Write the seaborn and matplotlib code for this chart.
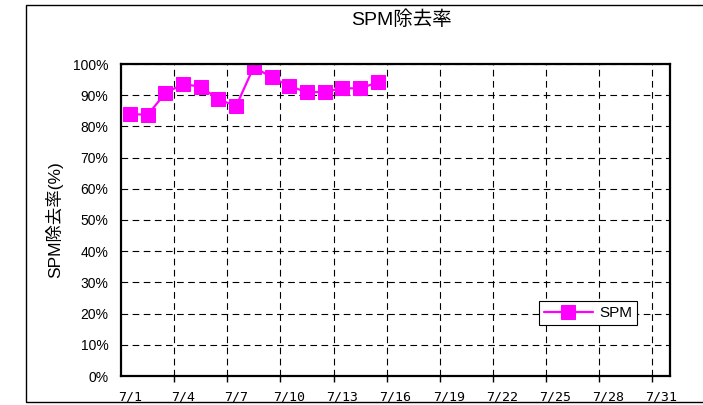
import matplotlib
matplotlib.use("Agg")
import matplotlib.pyplot as plt
import matplotlib.ticker as mticker
from matplotlib.patches import Rectangle
import seaborn as sns
import pandas as pd
import numpy as np

sns.set_theme(style="white")
plt.rcParams['font.family'] = ['Liberation Sans', 'Noto Sans CJK JP', 'DejaVu Sans']
plt.rcParams.update({'text.color': 'black', 'axes.labelcolor': 'black',
                     'xtick.color': 'black', 'ytick.color': 'black'})

# ---- data ----
days = list(range(1, 16))           # July 1 .. July 15
spm = [84.0, 83.7, 90.6, 93.6, 92.7, 88.7, 86.5, 99.1, 95.7, 93.0, 90.9, 91.1, 92.2, 92.2, 94.1]
tick_days = [1, 4, 7, 10, 13, 16, 19, 22, 25, 28, 31]
tick_labels = [f"7/{d}" for d in tick_days]
series_name = "SPM"
title = "SPM除去率"
ylabel = "SPM除去率(%)"

df = pd.DataFrame({"day": days, "value": np.array(spm) / 100.0, "series": series_name})

fig = plt.figure(figsize=(7.03, 4.05), dpi=100)
ax = fig.add_axes([121 / 703, 29 / 405, 549 / 703, 312 / 405])

sns.lineplot(data=df, x="day", y="value", hue="series", palette=["#FF00FF"],
             marker="s", markersize=10, markeredgecolor="#FF00FF", linewidth=1.6,
             ax=ax, legend=True)

ax.set_xlim(0.5, 31.5)
ax.set_ylim(0, 1.0)
ax.yaxis.set_major_locator(mticker.MultipleLocator(0.1))
ax.yaxis.set_major_formatter(mticker.FuncFormatter(lambda v, p: f"{v*100:.0f}%"))
ax.set_xticks(tick_days)
ax.set_xticklabels(tick_labels, family=['DejaVu Sans Mono'], fontsize=9.5)
ax.set_xticks(np.arange(3.5, 31, 3), minor=True)
ax.tick_params(axis='x', which='major', length=0, pad=10.5)
ax.tick_params(axis='x', which='minor', length=4, direction='out', bottom=True, color='black', width=1)
ax.tick_params(axis='y', which='major', length=0, pad=9, labelsize=10)

ax.grid(False)
ax.grid(axis='y', which='major', linestyle=(0, (6, 4)), color='black', linewidth=0.8)
ax.grid(axis='x', which='minor', linestyle=(0, (6, 4)), color='black', linewidth=0.8)

for s in ax.spines.values():
    s.set_visible(True)
    s.set_color('black')
    s.set_linewidth(1.6)

ax.set_xlabel("")
ax.set_ylabel(ylabel, family=['Liberation Sans', 'Noto Sans CJK JP'], fontsize=12.5, labelpad=7)

leg = ax.legend(loc='center', bbox_to_anchor=((588 - 121) / 549, (376 - 313) / 312),
                frameon=True, fancybox=False, fontsize=11, handlelength=3.2,
                borderpad=0.3, handletextpad=0.4)
leg.get_frame().set_edgecolor('black')
leg.get_frame().set_linewidth(0.8)
leg.get_frame().set_alpha(1)

fig.text(401 / 703, 1 - 20 / 405, title, ha='center', va='center', fontsize=14,
         family=['Liberation Sans', 'Noto Sans CJK JP'])

fig.patches.append(Rectangle((26 / 703, 3 / 405), 1.0, 397 / 405, transform=fig.transFigure,
                             fill=False, edgecolor='black', linewidth=1, clip_on=False))

fig.savefig("out.png", dpi=100)
